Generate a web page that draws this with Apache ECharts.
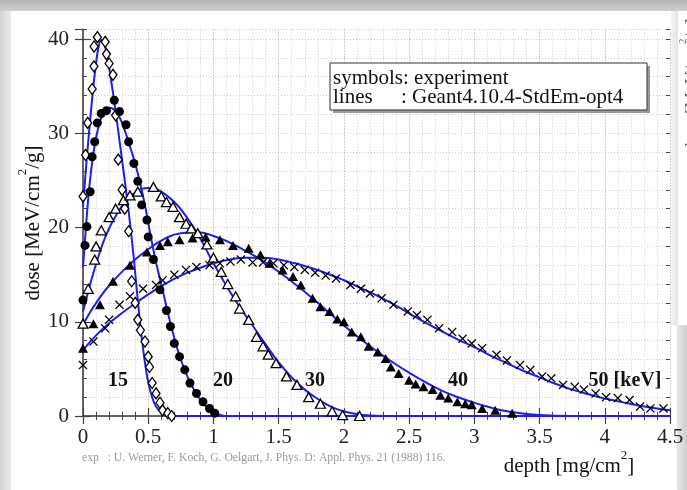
<!DOCTYPE html>
<html><head><meta charset="utf-8">
<script src="https://cdn.jsdelivr.net/npm/echarts/dist/echarts.min.js"></script>
<style>html,body{margin:0;padding:0;background:#fff}#c{width:687px;height:490px}</style>
</head><body><div id="c"></div>
<script>
// ---- data: [depth mg/cm2, dose MeV/cm2/g] ----
const line15 = [[0,22.2],[0.02,25.8],[0.04,29.1],[0.06,32.2],[0.08,35],[0.1,37.4],[0.12,39.2],[0.14,39.9],[0.16,39.6],[0.18,38.5],[0.2,37],[0.22,35.2],[0.24,33.3],[0.26,31.3],[0.28,29.2],[0.3,27.1],[0.32,25],[0.34,22.8],[0.36,20.5],[0.38,18],[0.4,15.2],[0.42,12.3],[0.44,9.6],[0.46,7.2],[0.48,5.2],[0.5,3.6],[0.53,2.0],[0.56,1.0],[0.6,0.4],[0.65,0.1],[0.7,0],[0.9,0],[1.5,0],[4.5,0]];
const exp15 = [[0,23.3],[0.02,27.7],[0.036,31.1],[0.07,34.7],[0.084,37.1],[0.085,39.2],[0.11,40.2],[0.17,39.7],[0.18,38.4],[0.2,37.4],[0.23,36.2],[0.25,31.9],[0.27,27.2],[0.3,24],[0.32,22],[0.35,19.6],[0.373,14.3],[0.4,12],[0.42,10.2],[0.44,9.1],[0.475,7.9],[0.5,6.3],[0.51,5.2],[0.53,3.5],[0.56,2.4],[0.59,1.4],[0.61,0.6],[0.65,0.3],[0.68,0]];
const line20 = [[0,15.8],[0.025,20.5],[0.05,24.5],[0.075,27.4],[0.1,29.5],[0.13,31.2],[0.16,32.2],[0.2,32.7],[0.24,32.5],[0.28,31.7],[0.32,30.3],[0.36,28.6],[0.4,26.8],[0.44,24.6],[0.48,22],[0.52,19],[0.56,16.3],[0.6,14],[0.64,11.6],[0.68,9.3],[0.72,7.3],[0.76,5.6],[0.8,4.2],[0.85,2.8],[0.9,1.7],[0.95,0.9],[1.0,0.4],[1.05,0.1],[1.1,0],[1.3,0],[2,0],[4.5,0]];
const exp20 = [[0,12.3],[0.015,18.1],[0.03,20.1],[0.055,23.8],[0.07,27.5],[0.09,29.1],[0.11,31.1],[0.14,32.1],[0.18,32.4],[0.24,33.5],[0.28,32.3],[0.33,30.9],[0.35,29.1],[0.39,26.8],[0.42,24.9],[0.45,22.4],[0.49,20.8],[0.5,19],[0.54,16.6],[0.59,13.4],[0.64,11.2],[0.67,9.5],[0.7,7.7],[0.74,6.3],[0.78,4.9],[0.82,3.5],[0.87,2.4],[0.92,1.5],[0.97,0.8],[1.01,0.3]];
const line30 = [[0,11.1],[0.04,13.2],[0.08,15.2],[0.12,17],[0.16,18.6],[0.2,19.9],[0.25,21.2],[0.3,22.3],[0.35,23.1],[0.4,23.7],[0.45,24.1],[0.5,24.2],[0.55,24.1],[0.6,23.8],[0.7,22.7],[0.8,21],[0.9,18.8],[1.0,16.2],[1.1,13.8],[1.2,11.6],[1.3,9.6],[1.4,7.6],[1.5,5.7],[1.6,4.1],[1.7,2.8],[1.8,1.8],[1.9,1.0],[2.0,0.5],[2.1,0.2],[2.2,0.05],[2.3,0],[2.6,0],[3,0],[4.5,0]];
const exp30 = [[0,9.8],[0.04,13.5],[0.09,16.6],[0.1,18],[0.14,19.7],[0.2,21.1],[0.25,22],[0.31,22.9],[0.36,23.4],[0.42,23.8],[0.54,24.3],[0.6,23.3],[0.64,22.7],[0.69,22.2],[0.74,21.1],[0.79,20.4],[0.83,19.9],[0.88,19.4],[0.95,18.2],[1.0,16.8],[1.06,15.3],[1.11,14],[1.17,12.7],[1.2,11.4],[1.27,10.2],[1.33,8.4],[1.38,7.4],[1.42,6.5],[1.48,5.6],[1.56,4.2],[1.64,3.3],[1.73,2],[1.82,1.3],[1.91,0.5],[1.99,0.1],[2.12,0]];
const line40 = [[0,9.7],[0.125,12.5],[0.25,14.6],[0.375,16.3],[0.5,17.7],[0.625,18.8],[0.75,19.4],[0.875,19.5],[1.0,19.1],[1.125,18.4],[1.25,17.5],[1.375,16.5],[1.5,15.3],[1.625,14],[1.75,12.6],[1.875,11.1],[2.0,9.6],[2.125,8.2],[2.25,6.9],[2.375,5.7],[2.5,4.6],[2.625,3.6],[2.75,2.7],[2.875,2.0],[3.0,1.4],[3.125,0.9],[3.25,0.5],[3.5,0.1],[3.75,0],[4.0,0],[4.5,0]];
const exp40 = [[0,7.2],[0.08,9.8],[0.13,11.8],[0.23,14.3],[0.36,16],[0.49,17.4],[0.59,18.1],[0.65,18.5],[0.74,18.7],[0.84,18.9],[0.94,19],[1.05,18.7],[1.15,18.1],[1.27,17.8],[1.36,17.1],[1.43,16.2],[1.53,15.5],[1.61,14.8],[1.67,13.9],[1.76,12.5],[1.82,11.6],[1.89,11.1],[1.95,10.3],[2.0,10],[2.06,8.9],[2.13,8.4],[2.19,7.4],[2.26,6.8],[2.32,6.1],[2.36,5.2],[2.42,4.5],[2.5,3.8],[2.55,3.4],[2.61,3.1],[2.68,2.8],[2.74,2.2],[2.8,1.9],[2.87,1.5],[2.93,1.3],[2.98,1.2],[3.06,0.8],[3.16,0.6],[3.29,0.3]];
const line50 = [[0,7.0],[0.125,8.9],[0.25,10.4],[0.375,11.7],[0.5,12.9],[0.625,14.0],[0.75,14.9],[0.875,15.6],[1.0,16.2],[1.125,16.6],[1.25,16.8],[1.375,16.8],[1.5,16.6],[1.625,16.2],[1.75,15.7],[1.875,15.1],[2.0,14.4],[2.125,13.6],[2.25,12.8],[2.375,11.9],[2.5,10.9],[2.625,9.9],[2.75,9.0],[2.875,8.1],[3.0,7.3],[3.125,6.4],[3.25,5.6],[3.375,4.8],[3.5,4.1],[3.625,3.4],[3.75,2.8],[3.875,2.3],[4.0,1.85],[4.125,1.5],[4.25,1.15],[4.375,0.85],[4.5,0.6]];
const exp50 = [[0,5.4],[0.08,7.9],[0.17,9.3],[0.2,10.2],[0.28,11.8],[0.36,12.7],[0.46,13.5],[0.56,13.9],[0.61,14.4],[0.7,15],[0.79,15.5],[0.87,15.8],[0.97,16],[1.05,16.2],[1.13,16.4],[1.21,16.6],[1.3,16.3],[1.38,16.3],[1.46,16.2],[1.54,16],[1.62,15.8],[1.7,15.5],[1.78,15.2],[1.86,14.9],[1.94,14.6],[2.05,13.9],[2.13,13.5],[2.2,13],[2.29,12.5],[2.38,11.8],[2.49,11.1],[2.56,10.7],[2.64,10.2],[2.73,9.3],[2.83,8.9],[2.91,8.2],[2.98,7.7],[3.06,7.2],[3.17,6.5],[3.25,5.9],[3.35,5.4],[3.43,4.9],[3.52,4.2],[3.59,4],[3.68,3.3],[3.77,3.1],[3.84,2.8],[3.93,2.4],[4.01,2],[4.1,1.9],[4.19,1.7],[4.27,1],[4.35,0.8],[4.45,0.8]];
const energyLabels = ['15','20','30','40','50 [keV]'];
const legendLines = ['symbols: experiment','lines',': Geant4.10.4-StdEm-opt4'];
const xTitle = 'depth [mg/cm{sup|2}]';
const yTitle = 'dose [MeV/cm{sup|2}/g]';
const citation = 'exp   : U. Werner, F. Koch, G. Oelgart, J. Phys. D: Appl. Phys. 21 (1988) 116.';
const edgeText = 'dose [MeV/cm{sup|2}/g]';

const SERIF = '"Liberation Serif","DejaVu Serif",serif';
const BLUE = '#1e1eee';
const X_PATH = 'path://M1,0L5,4L9,0L10,1L6,5L10,9L9,10L5,6L1,10L0,9L4,5L0,1Z';

function lineS(d){return {type:'line',data:d,showSymbol:false,smooth:0.5,
  lineStyle:{color:BLUE,width:2},z:3,silent:true,xAxisIndex:0,yAxisIndex:0};}
function expS(d,symbol,size,fill,bw){return {type:'scatter',data:d,symbol:symbol,symbolSize:size,
  itemStyle:{color:fill,borderColor:'#000',borderWidth:bw,opacity:1},z:4,silent:true,xAxisIndex:0,yAxisIndex:0};}

const chart = echarts.init(document.getElementById('c'), null, {renderer:'canvas'});
const tickCol = '#444';
const baseX = {type:'value',min:0,max:4.5,interval:0.5};
const baseY = {type:'value',min:0,max:41};
chart.setOption({
  animation:false,
  backgroundColor:'#fff',
  grid:{left:83,right:17,top:29.6,bottom:74,outerBoundsMode:'none',containLabel:false},
  xAxis:[
    Object.assign({},baseX,{position:'bottom',
      axisLine:{show:true,lineStyle:{color:'#333',width:1.5}},
      axisTick:{show:true,inside:true,length:8,lineStyle:{color:tickCol,width:1.2}},
      minorTick:{show:true,splitNumber:5,length:4,lineStyle:{color:tickCol,width:1}},
      splitLine:{show:true,lineStyle:{color:'#a0a0a0',type:[1,2],width:1}},
      minorSplitLine:{show:true,lineStyle:{color:'#cccccc',type:[1,2],width:1}},
      axisLabel:{show:true,margin:11,color:'#222',fontFamily:SERIF,fontSize:21,showMaxLabel:true,showMinLabel:true,hideOverlap:false}}),
    Object.assign({},baseX,{position:'top',
      axisLine:{show:true,lineStyle:{color:'#666',width:1.5}},
      axisTick:{show:true,inside:true,length:8,lineStyle:{color:tickCol,width:1.2}},
      minorTick:{show:true,splitNumber:5,length:4,lineStyle:{color:tickCol,width:1}},
      splitLine:{show:false},axisLabel:{show:false}})
  ],
  yAxis:[
    Object.assign({},baseY,{position:'left',interval:10,
      axisLine:{show:true,lineStyle:{color:'#333',width:1.5}},
      axisTick:{show:true,inside:true,length:8,lineStyle:{color:tickCol,width:1.2}},
      splitLine:{show:true,lineStyle:{color:'#a0a0a0',type:[1,2],width:1}},
      axisLabel:{show:true,margin:14,color:'#222',fontFamily:SERIF,fontSize:21,showMaxLabel:false,hideOverlap:false}}),
    Object.assign({},baseY,{position:'right',interval:10,
      axisLine:{show:true,lineStyle:{color:'#666',width:1.5}},
      axisTick:{show:true,inside:true,length:8,lineStyle:{color:tickCol,width:1.2}},
      splitLine:{show:false},axisLabel:{show:false}}),
    Object.assign({},baseY,{position:'left',interval:2,
      axisLine:{show:false},
      axisTick:{show:true,inside:true,length:4,lineStyle:{color:tickCol,width:1}},
      splitLine:{show:true,lineStyle:{color:'#cccccc',type:[1,2],width:1}},
      axisLabel:{show:false}}),
    Object.assign({},baseY,{position:'right',interval:2,
      axisLine:{show:false},
      axisTick:{show:true,inside:true,length:4,lineStyle:{color:tickCol,width:1}},
      splitLine:{show:false},axisLabel:{show:false}})
  ],
  series:[
    lineS(line15),lineS(line20),lineS(line30),lineS(line40),lineS(line50),
    expS(exp15,'diamond',[8,11],'#fff',1.3),
    expS(exp20,'circle',9,'#000',0),
    expS(exp30,'triangle',[10,9],'#fff',1.3),
    expS(exp40,'triangle',[10,9],'#000',0),
    expS(exp50,X_PATH,9,'#000',0)
  ],
  graphic:[
    // slide frame
    {type:'rect',shape:{x:0,y:0,width:687,height:11},z:-10,style:{fill:new echarts.graphic.LinearGradient(0,0,0,1,[{offset:0,color:'#b4b4b4'},{offset:1,color:'#cfcfcf'}])}},
    {type:'rect',shape:{x:0,y:11,width:11,height:479},z:-10,style:{fill:new echarts.graphic.LinearGradient(0,0,1,0,[{offset:0,color:'#d2d2d2'},{offset:1,color:'#ececec'}])}},
    {type:'rect',shape:{x:677,y:325,width:10,height:165},z:-10,style:{fill:new echarts.graphic.LinearGradient(0,0,1,0,[{offset:0,color:'#e6e6e6'},{offset:1,color:'#cfcfcf'}])}},
    {type:'rect',shape:{x:671,y:11,width:7,height:314},z:-10,style:{fill:new echarts.graphic.LinearGradient(0,0,1,0,[{offset:0,color:'#f4f4f4'},{offset:1,color:'#e2e2e2'}])}},
    {type:'text',x:693,y:85,rotation:Math.PI/2,z:-5,style:{text:edgeText,font:'18px '+SERIF,fill:'#666',textAlign:'center',textVerticalAlign:'middle',
      rich:{sup:{fontSize:11,fontFamily:SERIF,verticalAlign:'top',lineHeight:30,fill:'#666'}}}},
    // legend box
    {type:'rect',shape:{x:333,y:66,width:317,height:47},z:50,style:{fill:'#9a9a9a'}},
    {type:'rect',shape:{x:330,y:63,width:317,height:47},z:51,style:{fill:'#fff',stroke:'#333',lineWidth:1}},
    {type:'text',x:333,y:78,z:52,style:{text:legendLines[0],font:'21px '+SERIF,fill:'#111',textVerticalAlign:'middle'}},
    {type:'text',x:333,y:97,z:52,style:{text:legendLines[1],font:'21px '+SERIF,fill:'#111',textVerticalAlign:'middle'}},
    {type:'text',x:401,y:97,z:52,style:{text:legendLines[2],font:'21px '+SERIF,fill:'#111',textVerticalAlign:'middle'}},
    // energy labels
    {type:'text',x:118,y:381,z:52,style:{text:energyLabels[0],font:'bold 20px '+SERIF,fill:'#111',textAlign:'center',textVerticalAlign:'middle'}},
    {type:'text',x:223,y:381,z:52,style:{text:energyLabels[1],font:'bold 20px '+SERIF,fill:'#111',textAlign:'center',textVerticalAlign:'middle'}},
    {type:'text',x:315,y:381,z:52,style:{text:energyLabels[2],font:'bold 20px '+SERIF,fill:'#111',textAlign:'center',textVerticalAlign:'middle'}},
    {type:'text',x:458,y:381,z:52,style:{text:energyLabels[3],font:'bold 20px '+SERIF,fill:'#111',textAlign:'center',textVerticalAlign:'middle'}},
    {type:'text',x:625,y:381,z:52,style:{text:energyLabels[4],font:'bold 20px '+SERIF,fill:'#111',textAlign:'center',textVerticalAlign:'middle'}},
    // titles
    {type:'text',x:569,y:466,z:52,style:{text:xTitle,font:'21px '+SERIF,fill:'#111',textAlign:'center',textVerticalAlign:'middle',
      rich:{sup:{fontSize:13,fontFamily:SERIF,verticalAlign:'top',lineHeight:34,fill:'#111'}}}},
    {type:'text',x:33,y:223,rotation:Math.PI/2,z:52,style:{text:yTitle,font:'21px '+SERIF,fill:'#111',textAlign:'center',textVerticalAlign:'middle',
      rich:{sup:{fontSize:13,fontFamily:SERIF,verticalAlign:'top',lineHeight:34,fill:'#111'}}}},
    {type:'text',x:82,y:458,z:52,style:{text:citation,font:'11.7px '+SERIF,fill:'#9a9a9a',textVerticalAlign:'middle'}}
  ]
});
</script></body></html>
